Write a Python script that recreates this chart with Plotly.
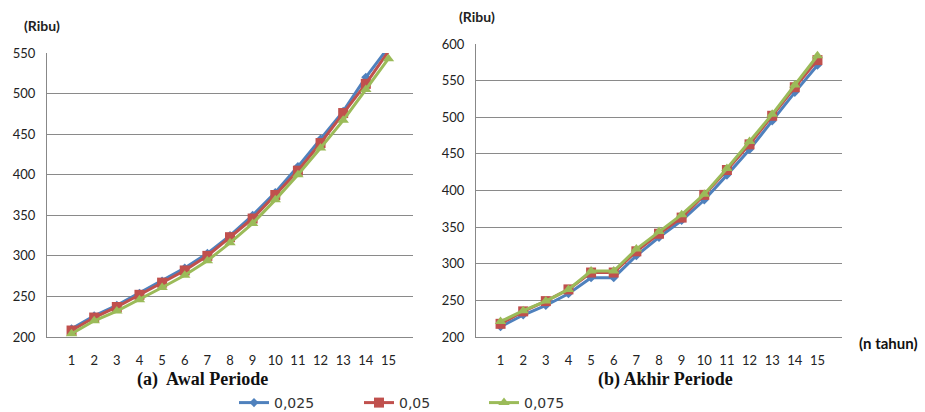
import plotly.graph_objects as go

years = [str(i) for i in range(1, 16)]
series_names = ["0,025", "0,05", "0,075"]

awal_025 = [210, 226, 239, 254, 269, 285, 303, 325, 350, 378, 410, 444, 478, 520, 557]
awal_05 = [208, 224, 237, 252, 267, 282, 300, 323, 346, 375, 405, 439, 476, 512, 552]
awal_075 = [204, 220, 232, 246, 261, 276, 294, 316, 340, 369, 400, 433, 467, 505, 543]

akhir_025 = [214, 230, 243, 259, 281, 281, 311, 336, 359, 387, 421, 456, 495, 534, 571]
akhir_05 = [218, 235, 249, 265, 288, 288, 317, 341, 363, 394, 428, 463, 502, 541, 578]
akhir_075 = [221, 236, 249, 265, 290, 290, 320, 344, 367, 395, 430, 467, 504, 544, 584]

colors = ["#4F81BD", "#C0504D", "#9BBB59"]
symbols = ["diamond", "square", "triangle-up"]
msizes = [7, 10, 10]

fig = go.Figure()
for i, (name, ys) in enumerate(zip(series_names, [awal_025, awal_05, awal_075])):
    fig.add_trace(go.Scatter(x=years, y=ys, name=name, mode="lines+markers",
                             line=dict(color=colors[i], width=3),
                             marker=dict(symbol=symbols[i], size=msizes[i], color=colors[i]),
                             xaxis="x", yaxis="y", legendgroup=name, cliponaxis=False))
for i, (name, ys) in enumerate(zip(series_names, [akhir_025, akhir_05, akhir_075])):
    fig.add_trace(go.Scatter(x=years, y=ys, name=name, mode="lines+markers",
                             line=dict(color=colors[i], width=3),
                             marker=dict(symbol=symbols[i], size=msizes[i], color=colors[i]),
                             xaxis="x2", yaxis="y2", legendgroup=name, showlegend=False,
                             cliponaxis=False))

tickfont = dict(family="Lato", size=13, color="#222222")
xcommon = dict(type="category", showgrid=False, showline=True, linecolor="#888888",
               linewidth=1, tickfont=tickfont, ticks="", zeroline=False, fixedrange=True,
               automargin=False, ticklabelstandoff=11)
ycommon = dict(showgrid=True, gridcolor="#8a8a8a", gridwidth=1, showline=True,
               linecolor="#888888", linewidth=1, tickfont=tickfont, dtick=50,
               ticks="", zeroline=False, ticklabelstandoff=8, automargin=False)

fig.update_layout(
    width=925, height=412,
    margin=dict(l=0, r=0, t=0, b=0, autoexpand=False),
    paper_bgcolor="white", plot_bgcolor="white",
    xaxis=dict(domain=[47/925, 413/925], anchor="y", **xcommon),
    yaxis=dict(domain=[75/412, 359/412], range=[200, 550], anchor="x", **ycommon),
    xaxis2=dict(domain=[476/925, 842/925], anchor="y2", **xcommon),
    yaxis2=dict(domain=[75/412, 368/412], range=[200, 600], anchor="x2", **ycommon),
    showlegend=True,
    legend=dict(orientation="h", x=234/925, xanchor="left", y=1-403/412, yanchor="middle",
                font=dict(family="DejaVu Sans", size=14, color="#333333"),
                entrywidth=80, entrywidthmode="pixels",
                bgcolor="rgba(0,0,0,0)", tracegroupgap=0),
    annotations=[
        dict(text="<b>(Ribu)</b>", x=22/925, y=1-26/412, xref="paper", yref="paper",
             xanchor="left", yanchor="middle", showarrow=False,
             font=dict(family="Lato", size=14, color="#222222")),
        dict(text="<b>(Ribu)</b>", x=457/925, y=1-17/412, xref="paper", yref="paper",
             xanchor="left", yanchor="middle", showarrow=False,
             font=dict(family="Lato", size=14, color="#222222")),
        dict(text="<b>(n tahun)</b>", x=888/925, y=1-343/412, xref="paper", yref="paper",
             xanchor="center", yanchor="middle", showarrow=False,
             font=dict(family="Lato", size=15, color="#111111")),
        dict(text="<b>(a)  Awal Periode</b>", x=202/925, y=1-379/412, xref="paper", yref="paper",
             xanchor="center", yanchor="middle", showarrow=False,
             font=dict(family="Liberation Serif", size=18, color="#111111")),
        dict(text="<b>(b) Akhir Periode</b>", x=665/925, y=1-379/412, xref="paper", yref="paper",
             xanchor="center", yanchor="middle", showarrow=False,
             font=dict(family="Liberation Serif", size=18, color="#111111")),
    ],
)

fig.write_html("out.html", config={"displayModeBar": False},
               post_script="document.body.style.margin='0';document.body.style.overflow='hidden';")
